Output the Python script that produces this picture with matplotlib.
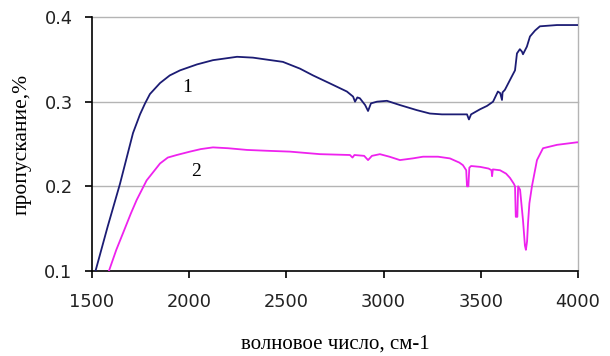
import matplotlib
matplotlib.use("Agg")
import matplotlib.pyplot as plt

# curve 1 (navy)
wn1 = [1518, 1580, 1644, 1711, 1747, 1773, 1798, 1850, 1900, 1953, 2040, 2122, 2246, 2328, 2482,
       2570, 2637, 2720, 2811, 2843, 2853, 2865, 2878, 2905, 2920, 2935, 2966, 3017,
       3084, 3171, 3238, 3300, 3429, 3439, 3450, 3496, 3532, 3563, 3588, 3600, 3609,
       3612, 3624, 3660, 3676, 3686, 3701, 3712, 3717, 3737, 3753, 3779, 3804, 3892, 4000]
t1 = [0.100, 0.152, 0.203, 0.263, 0.285, 0.298, 0.309, 0.322, 0.331, 0.337, 0.344, 0.349, 0.353, 0.352, 0.347,
      0.339, 0.331, 0.322, 0.312, 0.306, 0.300, 0.305, 0.304, 0.296, 0.289, 0.298, 0.300, 0.301,
      0.296, 0.290, 0.286, 0.285, 0.285, 0.279, 0.285, 0.291, 0.295, 0.300, 0.312, 0.310, 0.302,
      0.311, 0.314, 0.330, 0.337, 0.357, 0.362, 0.359, 0.356, 0.365, 0.377, 0.384, 0.389, 0.3905, 0.3905]

# curve 2 (magenta)
wn2 = [1587, 1625, 1660, 1700, 1730, 1781, 1850, 1890, 1936, 2004, 2060, 2122, 2200, 2297, 2400,
       2518, 2673, 2827, 2840, 2850, 2900, 2920, 2940, 2981, 3030, 3084, 3150, 3203, 3280,
       3341, 3390, 3408, 3425, 3429, 3436, 3441, 3450, 3496, 3540, 3555, 3558, 3562, 3599,
       3630, 3650, 3670, 3676, 3680, 3688, 3692, 3702, 3717, 3727, 3732, 3738, 3743, 3750,
       3763, 3789, 3820, 3892, 3995, 4000]
t2 = [0.100, 0.125, 0.145, 0.168, 0.184, 0.207, 0.227, 0.234, 0.237, 0.241, 0.244, 0.246, 0.245, 0.243, 0.242,
      0.241, 0.238, 0.237, 0.234, 0.237, 0.236, 0.231, 0.236, 0.238, 0.235, 0.231, 0.233, 0.235, 0.235,
      0.233, 0.228, 0.225, 0.219, 0.200, 0.200, 0.222, 0.224, 0.223, 0.221, 0.219, 0.212, 0.220, 0.219,
      0.215, 0.210, 0.203, 0.200, 0.164, 0.164, 0.200, 0.196, 0.160, 0.130, 0.125, 0.135, 0.157, 0.180,
      0.200, 0.231, 0.245, 0.249, 0.252, 0.252]

xticks = [1500, 2000, 2500, 3000, 3500, 4000]
yticks = [0.1, 0.2, 0.3, 0.4]
ytick_labels = ["0.1", "0.2", "0.3", "0.4"]
curve_labels = ["1", "2"]

fig = plt.figure(figsize=(6.10, 3.56), dpi=100)
ax = fig.add_axes([92/610, 1 - 271/356, (578-92)/610, (271-17)/356])

for y in yticks[1:]:
    ax.axhline(y, color="#b4b4b4", lw=1.0, zorder=1, clip_on=False)

ax.plot(wn1, t1, color="#1c1c74", lw=1.3, zorder=3)
ax.plot(wn2, t2, color="#ee22ee", lw=1.3, zorder=3)

ax.set_xlim(1500, 4000)
ax.set_ylim(0.1, 0.4)
ax.set_xticks(xticks)
ax.set_yticks(yticks)
ax.set_yticklabels(ytick_labels)

ax.spines["top"].set_visible(False)
ax.spines["right"].set_color("#b4b4b4")
ax.spines["left"].set_color("black")
ax.spines["bottom"].set_color("black")
ax.spines["left"].set_linewidth(1.2)
ax.spines["bottom"].set_linewidth(1.2)
ax.spines["right"].set_linewidth(1.0)

ax.tick_params(axis="both", direction="out", length=5, width=1.2, colors="black",
               labelsize=12.8, labelcolor="#222222")
ax.tick_params(axis="y", pad=9)
ax.tick_params(axis="x", pad=11)
for lab in ax.get_xticklabels() + ax.get_yticklabels():
    lab.set_fontfamily("DejaVu Sans")

ax.text(1989, 0.317, curve_labels[0], fontsize=14, family="Liberation Serif", ha="center", va="center")
ax.text(2035, 0.217, curve_labels[1], fontsize=14, family="Liberation Serif", ha="center", va="center")

ax.set_xlabel("волновое число, см-1", fontsize=15, family="Liberation Serif", labelpad=17)
ax.set_ylabel("пропускание,%", fontsize=15.5, family="Liberation Serif", labelpad=9)

fig.savefig("out.png", dpi=100)
